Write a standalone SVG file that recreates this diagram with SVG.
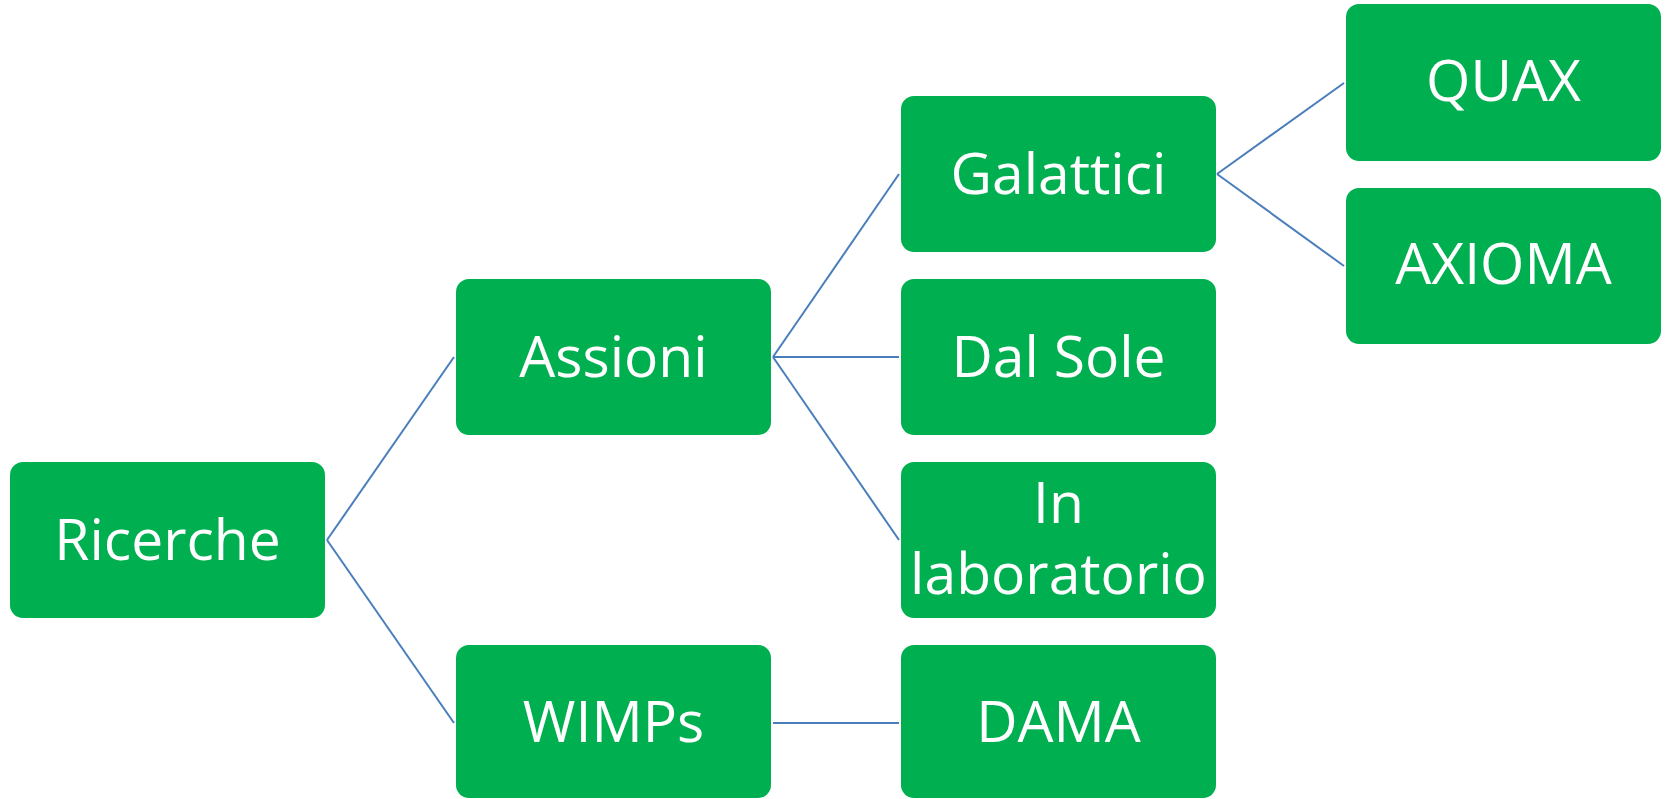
<svg xmlns="http://www.w3.org/2000/svg" width="1665" height="799" viewBox="0 0 1665 799">
<style>
.box{fill:#00B050;}
.lbl{fill:#FFFFFF;font-family:"Open Sans","Liberation Sans",sans-serif;font-size:57px;text-anchor:middle;}
.conn line{stroke:#4A7EBB;stroke-width:2;fill:none;}
</style>
<rect width="1665" height="799" fill="#FFFFFF"/>
<g id="connectors" class="conn">
<line x1="327" y1="540" x2="454" y2="357"/>
<line x1="327" y1="540" x2="454" y2="723"/>
<line x1="773" y1="357" x2="899" y2="174"/>
<line x1="773" y1="357" x2="899" y2="357"/>
<line x1="773" y1="357" x2="899" y2="540"/>
<line x1="1217" y1="174" x2="1344" y2="83"/>
<line x1="1217" y1="174" x2="1344" y2="266"/>
<line x1="773" y1="723" x2="899" y2="723"/>
</g>
<g id="ricerche"><rect class="box" x="10" y="462" width="315" height="156" rx="13"/><text class="lbl" x="167.5" y="560">Ricerche</text></g>
<g id="assioni"><rect class="box" x="456" y="279" width="315" height="156" rx="13"/><text class="lbl" x="613.5" y="377">Assioni</text></g>
<g id="wimps"><rect class="box" x="456" y="645" width="315" height="153" rx="13"/><text class="lbl" x="613.5" y="742">WIMPs</text></g>
<g id="galattici"><rect class="box" x="901" y="96" width="315" height="156" rx="13"/><text class="lbl" x="1058.5" y="194">Galattici</text></g>
<g id="dalsole"><rect class="box" x="901" y="279" width="315" height="156" rx="13"/><text class="lbl" x="1058.5" y="377">Dal Sole</text></g>
<g id="inlaboratorio"><rect class="box" x="901" y="462" width="315" height="156" rx="13"/><text class="lbl" x="1058.5" y="523">In</text><text class="lbl" x="1058.5" y="594">laboratorio</text></g>
<g id="dama"><rect class="box" x="901" y="645" width="315" height="153" rx="13"/><text class="lbl" x="1058.5" y="742">DAMA</text></g>
<g id="quax"><rect class="box" x="1346" y="4" width="315" height="157" rx="13"/><text class="lbl" x="1503.5" y="101">QUAX</text></g>
<g id="axioma"><rect class="box" x="1346" y="188" width="315" height="156" rx="13"/><text class="lbl" x="1503.5" y="284">AXIOMA</text></g>
</svg>
